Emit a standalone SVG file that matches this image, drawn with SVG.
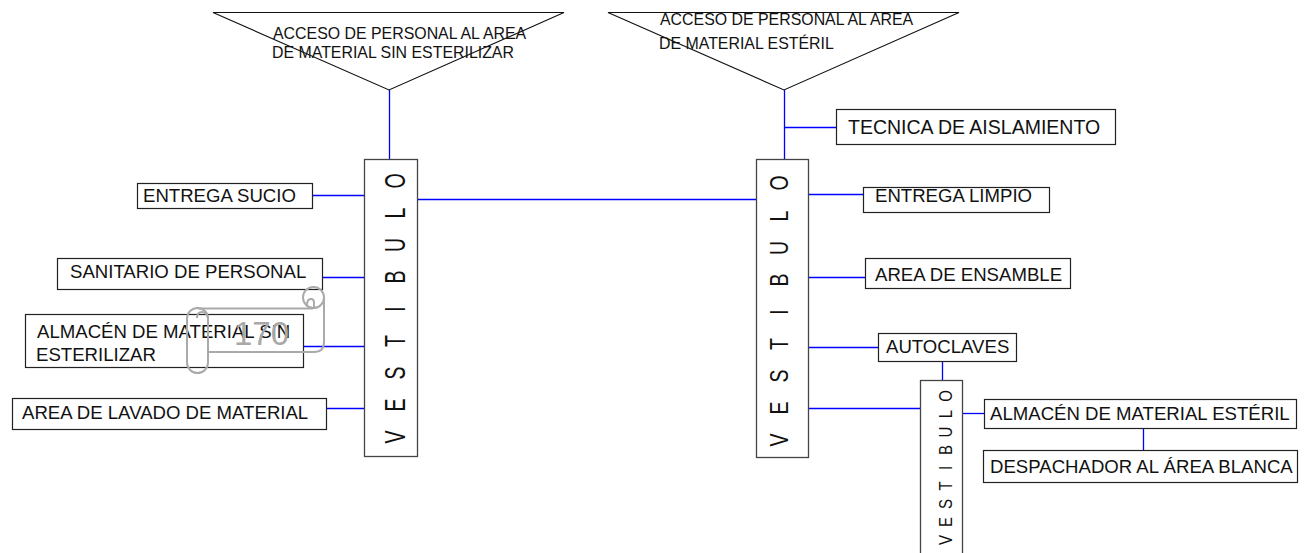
<svg xmlns="http://www.w3.org/2000/svg" width="1304" height="553" viewBox="0 0 1304 553">
<style>
.box{fill:none;stroke:#222;stroke-width:1.2}
.vbox{fill:none;stroke:#444;stroke-width:1.3}
.tri{fill:none;stroke:#111;stroke-width:1.1}
.lbl{font-family:"Liberation Sans",Arial,sans-serif;font-size:18.6px;fill:#111}
.tlbl{font-family:"Liberation Sans",Arial,sans-serif;font-size:15.9px;fill:#111}
.vt{font-family:"Liberation Sans",Arial,sans-serif;fill:#111;text-anchor:middle}
.con{stroke:#0000ff;stroke-width:1.3;fill:none}
.wm{fill:none;stroke:#aaa;stroke-width:2}
</style>
<rect width="1304" height="553" fill="#fff"/>
<g id="connectors">
<line class="con" x1="389.5" y1="90" x2="389.5" y2="159"/>
<line class="con" x1="784.5" y1="90" x2="784.5" y2="159"/>
<line class="con" x1="784.5" y1="127.5" x2="836" y2="127.5"/>
<line class="con" x1="417" y1="199.5" x2="756" y2="199.5"/>
<line class="con" x1="312" y1="195.5" x2="364" y2="195.5"/>
<line class="con" x1="322" y1="277.5" x2="364" y2="277.5"/>
<line class="con" x1="303" y1="346.5" x2="364" y2="346.5"/>
<line class="con" x1="326" y1="408.5" x2="364" y2="408.5"/>
<line class="con" x1="808" y1="194.5" x2="863" y2="194.5"/>
<line class="con" x1="808" y1="277.5" x2="865" y2="277.5"/>
<line class="con" x1="808" y1="347.5" x2="878" y2="347.5"/>
<line class="con" x1="808" y1="408.5" x2="920" y2="408.5"/>
<line class="con" x1="942.5" y1="361" x2="942.5" y2="380"/>
<line class="con" x1="962" y1="413.5" x2="984" y2="413.5"/>
<line class="con" x1="1143.5" y1="428" x2="1143.5" y2="450"/>
</g>
<g id="acceso-sin-esterilizar">
<polygon class="tri" points="213,12.5 564,12.5 389,90"/>
<text class="tlbl" x="273" y="39">ACCESO DE PERSONAL AL AREA</text>
<text class="tlbl" x="272" y="57.5">DE MATERIAL SIN ESTERILIZAR</text>
</g>
<g id="acceso-esteril">
<polygon class="tri" points="608,12.5 959,12.5 784,90"/>
<text class="tlbl" x="660" y="25">ACCESO DE PERSONAL AL AREA</text>
<text class="tlbl" x="659" y="49">DE MATERIAL ESTÉRIL</text>
</g>
<g id="vestibulo-1">
<rect class="vbox" x="364.5" y="159.5" width="53" height="297"/>
<text class="vt" font-size="19.5" transform="translate(405,437) rotate(-90) scale(1,1.55)" x="0 32 64 96 128 160 192 224 256" y="0">VESTIBULO</text>
</g>
<g id="vestibulo-2">
<rect class="vbox" x="756.5" y="159.5" width="52" height="298"/>
<text class="vt" font-size="19.5" transform="translate(788,440) rotate(-90) scale(1,1.35)" x="0 32 64 96 128 160 192 224 257" y="0">VESTIBULO</text>
</g>
<g id="vestibulo-3">
<rect class="vbox" x="920.5" y="380.5" width="42" height="190"/>
<text class="vt" font-size="15" transform="translate(952,540) rotate(-90) scale(1,1.22)" x="0 18 36 54 72 90 108 126 144" y="0">VESTIBULO</text>
</g>
<g id="entrega-sucio">
<rect class="box" x="137.5" y="183.5" width="175" height="25"/>
<text class="lbl" x="143" y="202">ENTREGA SUCIO</text>
</g>
<g id="sanitario">
<rect class="box" x="57.5" y="258.5" width="265" height="31"/>
<text class="lbl" x="70" y="278">SANITARIO DE PERSONAL</text>
</g>
<g id="almacen-sin">
<rect class="box" x="25.5" y="314.5" width="278" height="53"/>
<text class="lbl" x="37" y="338">ALMACÉN DE MATERIAL SIN</text>
<text class="lbl" x="36" y="361">ESTERILIZAR</text>
</g>
<g id="area-lavado">
<rect class="box" x="12.5" y="398.5" width="314" height="31"/>
<text class="lbl" x="22" y="419">AREA DE LAVADO DE MATERIAL</text>
</g>
<g id="tecnica">
<rect class="box" x="836.5" y="109.5" width="279" height="35"/>
<text class="lbl" x="848" y="134" style="font-size:19.5px">TECNICA DE AISLAMIENTO</text>
</g>
<g id="entrega-limpio">
<rect class="box" x="863.5" y="187.5" width="186" height="25"/>
<text class="lbl" x="875" y="202">ENTREGA LIMPIO</text>
</g>
<g id="area-ensamble">
<rect class="box" x="865.5" y="258.5" width="205" height="30"/>
<text class="lbl" x="875" y="281">AREA DE ENSAMBLE</text>
</g>
<g id="autoclaves">
<rect class="box" x="878.5" y="333.5" width="138" height="28"/>
<text class="lbl" x="886" y="353">AUTOCLAVES</text>
</g>
<g id="almacen-esteril">
<rect class="box" x="984.5" y="399.5" width="312" height="29"/>
<text class="lbl" x="990" y="420">ALMACÉN DE MATERIAL ESTÉRIL</text>
</g>
<g id="despachador">
<rect class="box" x="983.5" y="450.5" width="314" height="32"/>
<text class="lbl" x="990" y="473">DESPACHADOR AL ÁREA BLANCA</text>
</g>
<g id="watermark-170">
<path class="wm" d="M198,308.5 H313"/>
<path class="wm" d="M324,297 V342 Q324,352 314,352 H208"/>
<circle class="wm" cx="313.5" cy="297.5" r="10.5"/>
<path class="wm" d="M307,305 Q307,299 311,299 Q314,299 314,303 V308"/>
<rect class="wm" x="187" y="308" width="21" height="65" rx="10.5"/>
<path class="wm" d="M197,318 Q197,312 202,312 Q207,312 208,318"/>
<text x="234" y="345" style="font-family:'Liberation Sans',Arial,sans-serif;font-size:33px;fill:#a8a8a8">170</text>
</g>
</svg>
